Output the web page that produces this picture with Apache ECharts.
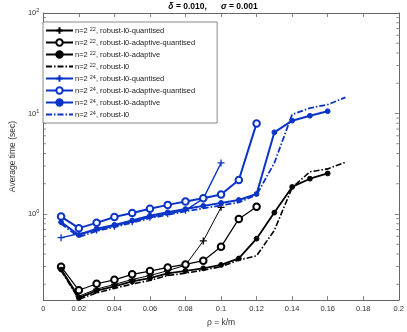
<!DOCTYPE html>
<html>
<head>
<meta charset="utf-8">
<script src="https://cdn.jsdelivr.net/npm/echarts@6/dist/echarts.min.js"></script>
<style>
html,body{margin:0;padding:0;background:#fff;}
#c{width:407px;height:332px;}
</style>
</head>
<body>
<div id="c"></div>
<script>
// x positions (rho = k/m)
const rho = [0.01,0.02,0.03,0.04,0.05,0.06,0.07,0.08,0.09,0.10,0.11,0.12,0.13,0.14,0.15,0.16,0.17];
const xTicks = [0,0.02,0.04,0.06,0.08,0.1,0.12,0.14,0.16,0.18,0.2];
const yMinorTicks = [0.2,0.3,0.4,0.5,0.6,0.7,0.8,0.9,2,3,4,5,6,7,8,9,20,30,40,50,60,70,80,90];

// n = 2^22 (black)
const n22Quantised = [0.286,0.152,0.179,0.199,0.223,0.244,0.273,0.309,0.539,1.164];
const n22AdaptiveQuantised = [0.299,0.174,0.202,0.221,0.251,0.270,0.294,0.315,0.343,0.471,0.893,1.177];
const n22Adaptive = [0.280,0.146,0.1726,0.190,0.213,0.2296,0.257,0.2716,0.288,0.311,0.361,0.568,1.032,1.859,2.244,2.53];
const n22L0 = [0.274,0.1417,0.164,0.182,0.201,0.218,0.244,0.258,0.276,0.299,0.348,0.384,0.687,1.83,2.63,2.81,3.27];

// n = 2^24 (blue)
const n24Quantised = [0.581,0.636,0.691,0.757,0.838,0.928,1.005,1.087,1.42,3.22];
const n24AdaptiveQuantised = [0.943,0.723,0.816,0.934,1.023,1.125,1.232,1.333,1.436,1.563,2.179,7.97];
const n24Adaptive = [0.829,0.617,0.712,0.779,0.861,0.960,1.039,1.120,1.204,1.289,1.379,1.580,6.50,8.48,9.49,10.53];
const n24L0 = [0.80,0.590,0.676,0.740,0.819,0.907,0.982,1.063,1.138,1.218,1.303,1.55,3.22,9.78,11.33,12.26,14.46];

const names = [
  'n=2^22, robust-l0-quantised',
  'n=2^22, robust-l0-adaptive-quantised',
  'n=2^22, robust-l0-adaptive',
  'n=2^22, robust-l0',
  'n=2^24, robust-l0-quantised',
  'n=2^24, robust-l0-adaptive-quantised',
  'n=2^24, robust-l0-adaptive',
  'n=2^24, robust-l0'
];

const BLACK = '#000000';
const BLUE = '#0a33c8';
const PLUS = 'path://M0,-5L0,5M-5,0L5,0';
const DASHDOT = [6,2,1.5,2];

function pairs(vals){ return vals.map((v,i)=>[rho[i], v]); }

function mk(name, vals, color, kind, lw){
  const s = {
    name: name, type: 'line', data: pairs(vals),
    lineStyle: {color: color, width: lw, type: 'solid'},
    itemStyle: {color: color, borderColor: color, borderWidth: 1},
    symbolSize: 6, showSymbol: true, animation: false, z: 3,
    emphasis: {disabled: true}
  };
  if (kind === 'plus') { s.symbol = PLUS; s.symbolSize = 7; s.itemStyle.borderWidth = 1.3; }
  else if (kind === 'open') { s.symbol = 'emptyCircle'; s.symbolSize = 6.5; s.itemStyle.borderWidth = 1.4; }
  else if (kind === 'filled') { s.symbol = 'circle'; s.symbolSize = 4.8; }
  else if (kind === 'dash') {
    s.symbol = 'none'; s.showSymbol = false; s.lineStyle.type = DASHDOT;
    s.itemStyle = {color: 'rgba(0,0,0,0)', borderColor: 'rgba(0,0,0,0)', borderWidth: 0};
  }
  return s;
}

const series = [
  mk(names[0], n22Quantised, BLACK, 'plus', 1),
  mk(names[1], n22AdaptiveQuantised, BLACK, 'open', 1.2),
  mk(names[2], n22Adaptive, BLACK, 'filled', 1.8),
  mk(names[3], n22L0, BLACK, 'dash', 1.6),
  mk(names[4], n24Quantised, BLUE, 'plus', 1.4),
  mk(names[5], n24AdaptiveQuantised, BLUE, 'open', 2),
  mk(names[6], n24Adaptive, BLUE, 'filled', 2),
  mk(names[7], n24L0, BLUE, 'dash', 1.8)
];

const AXC = '#666';
series.push({
  type: 'custom', silent: true, animation: false, clip: false, z: 1,
  data: yMinorTicks.map(v => [0, v]),
  renderItem: function(params, api){
    const v = api.value(1);
    const pL = api.coord([xTicks[0], v]);
    const pR = api.coord([xTicks[xTicks.length-1], v]);
    return {type:'group', children:[
      {type:'line', shape:{x1:pL[0], y1:pL[1], x2:pL[0]+2.5, y2:pL[1]}, style:{stroke:AXC, lineWidth:0.8}},
      {type:'line', shape:{x1:pR[0], y1:pR[1], x2:pR[0]-2.5, y2:pR[1]}, style:{stroke:AXC, lineWidth:0.8}}
    ]};
  }
});

function supLabel(v){
  const e = Math.round(Math.log10(v));
  return '{b|10}{s|' + e + '}';
}

const labelFont = {fontFamily: 'Liberation Sans, Arial, sans-serif', fontSize: 7.5, color: '#333'};

const chart = echarts.init(document.getElementById('c'), null, {renderer: 'canvas'});
chart.setOption({
  animation: false,
  backgroundColor: '#fff',
  title: {
    text: '{g|δ}{t| = 0.010,      }{g|σ}{t| = 0.001}',
    left: 208, textAlign: 'center', top: -3,
    textStyle: {
      rich: {
        g: {fontFamily: 'Liberation Sans, Arial', fontSize: 8.5, fontWeight: 'bold', fontStyle: 'italic', color: '#000'},
        t: {fontFamily: 'Liberation Sans, Arial', fontSize: 8.5, fontWeight: 'bold', color: '#000'}
      }
    }
  },
  grid: {left: 32.5, right: 5, top: 13, bottom: 28, containLabel: false},
  legend: {
    data: names, orient: 'vertical', left: 43, top: 22,
    itemWidth: 27, itemHeight: 8, itemGap: 3,
    backgroundColor: '#fff', borderColor: '#555', borderWidth: 0.7,
    padding: [4, 22, 4, 2],
    selectedMode: false,
    formatter: function(name){
      const m = name.match(/^n=2\^(\d+), (.*)$/);
      return '{t|n=2 }{s|' + m[1] + '}{t|, ' + m[2] + '}';
    },
    textStyle: {
      color: '#222', fontFamily: 'Liberation Sans, Arial, sans-serif', fontSize: 7.5, padding: [0,0,0,-3],
      rich: {
        t: {fontFamily: 'Liberation Sans, Arial, sans-serif', fontSize: 7.5, color: '#222', lineHeight: 9},
        s: {fontFamily: 'Liberation Sans, Arial, sans-serif', fontSize: 5.5, color: '#222', lineHeight: 9, padding: [0,0,3,0]}
      }
    }
  },
  xAxis: [
    {
      type: 'value', min: xTicks[0], max: xTicks[xTicks.length-1], interval: 0.02,
      name: 'ρ = k/m', nameLocation: 'middle', nameGap: 17,
      nameTextStyle: {fontFamily: 'Liberation Sans, Arial', fontSize: 8.5, color: '#333'},
      axisLine: {show: true, onZero: false, lineStyle: {color: AXC, width: 1}},
      axisTick: {show: true, inside: true, length: 4, lineStyle: {color: AXC, width: 0.8}},
      axisLabel: Object.assign({margin: 5, formatter: v => String(+v.toFixed(2))}, labelFont),
      splitLine: {show: false}
    },
    {
      type: 'value', position: 'top', min: xTicks[0], max: xTicks[xTicks.length-1], interval: 0.02,
      axisLine: {show: true, onZero: false, lineStyle: {color: AXC, width: 1}},
      axisTick: {show: true, inside: true, length: 4, lineStyle: {color: AXC, width: 0.8}},
      axisLabel: {show: false}, splitLine: {show: false}
    }
  ],
  yAxis: [
    {
      type: 'log', logBase: 10, min: 0.139, max: 100,
      name: 'Average time (sec)', nameLocation: 'middle', nameGap: 24,
      nameTextStyle: {fontFamily: 'Liberation Sans, Arial', fontSize: 8.5, color: '#333'},
      axisLine: {show: true, onZero: false, lineStyle: {color: AXC, width: 1}},
      axisTick: {show: true, inside: true, length: 4, lineStyle: {color: AXC, width: 0.8}},
      axisLabel: {
        margin: 4, showMinLabel: false,
        formatter: supLabel,
        rich: {
          b: {fontFamily: 'Liberation Sans, Arial', fontSize: 7.5, color: '#333'},
          s: {fontFamily: 'Liberation Sans, Arial', fontSize: 5.5, color: '#333', padding: [0,0,5,0]}
        }
      },
      splitLine: {show: false}
    },
    {
      type: 'log', logBase: 10, min: 0.139, max: 100, position: 'right',
      axisLine: {show: true, onZero: false, lineStyle: {color: AXC, width: 1}},
      axisTick: {show: true, inside: true, length: 4, lineStyle: {color: AXC, width: 0.8}},
      axisLabel: {show: false}, splitLine: {show: false}
    }
  ],
  series: series
});
</script>
</body>
</html>
